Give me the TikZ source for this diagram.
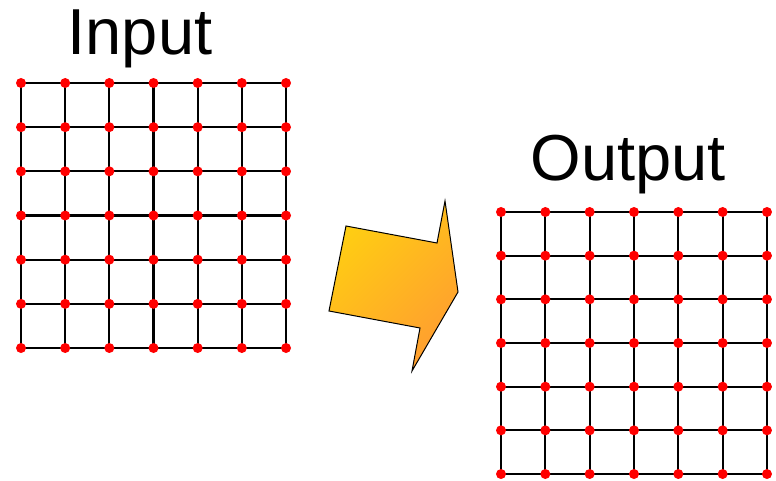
\documentclass[tikz,border=0pt]{standalone}
\usepackage{fontspec}
\setmainfont{Liberation Sans}
\definecolor{arrowtop}{RGB}{255,206,18}
\definecolor{arrowbot}{RGB}{255,158,48}
\begin{document}
\begin{tikzpicture}[x=1pt,y=-1pt,
    gridline/.style={line width=2.2pt, black},
    gridpt/.style={red},
    title/.style={anchor=base, inner sep=0pt, font=\fontsize{65}{70}\selectfont}]
    \useasboundingbox (0,0) rectangle (776,481);
    % Input grid (7 x 7 points)
    \def\ix{21}  \def\iy{83}  \def\isx{44.17} \def\isy{44.17}
    \foreach \k in {0,...,6} {
        \draw[gridline] (\ix+\k*\isx,\iy) -- (\ix+\k*\isx,\iy+6*\isy);
        \draw[gridline] (\ix,\iy+\k*\isy) -- (\ix+6*\isx,\iy+\k*\isy);
    }
    \foreach \i in {0,...,6}
        \foreach \j in {0,...,6}
            \fill[gridpt] (\ix+\i*\isx,\iy+\j*\isy) circle (5);
    % Output grid (7 x 7 points)
    \def\ox{501} \def\oy{212} \def\osx{44.33} \def\osy{43.67}
    \foreach \k in {0,...,6} {
        \draw[gridline] (\ox+\k*\osx,\oy) -- (\ox+\k*\osx,\oy+6*\osy);
        \draw[gridline] (\ox,\oy+\k*\osy) -- (\ox+6*\osx,\oy+\k*\osy);
    }
    \foreach \i in {0,...,6}
        \foreach \j in {0,...,6}
            \fill[gridpt] (\ox+\i*\osx,\oy+\j*\osy) circle (5);
    % Titles
    \node[title] (intitle) at (140,55) {Input};
    \node[title] (outtitle) at (628,181) {Output};
    % Block arrow
    \shade[top color=arrowtop, bottom color=arrowbot, shading angle=45]
        (346,226) -- (437,243) -- (445,201) -- (458,292) -- (412,371)
        -- (420,328) -- (329,311) -- cycle;
    \draw[line width=1pt, line join=miter]
        (346,226) -- (437,243) -- (445,201) -- (458,292) -- (412,371)
        -- (420,328) -- (329,311) -- cycle;
\end{tikzpicture}
\end{document}
